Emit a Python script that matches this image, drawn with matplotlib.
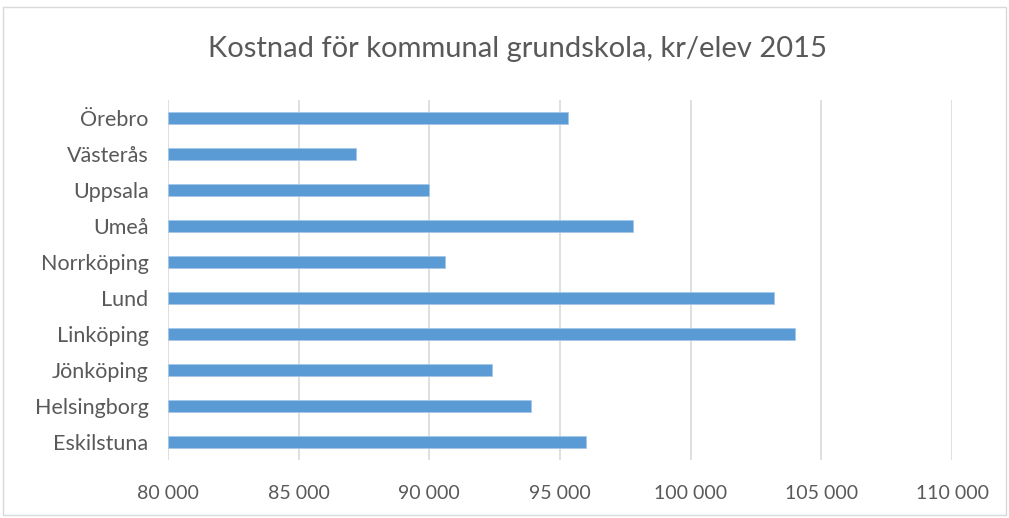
import matplotlib.pyplot as plt
from matplotlib.ticker import FuncFormatter
from matplotlib.patches import Rectangle

# data (top to bottom as shown)
cities = ['Örebro', 'Västerås', 'Uppsala', 'Umeå', 'Norrköping',
          'Lund', 'Linköping', 'Jönköping', 'Helsingborg', 'Eskilstuna']
cost = [95300, 87200, 90000, 97800, 90600,
        103200, 104000, 92400, 93900, 96000]
xticks = [80000, 85000, 90000, 95000, 100000, 105000, 110000]

plt.rcParams['font.family'] = ['Lato', 'DejaVu Sans']

fig = plt.figure(figsize=(10.09, 5.18), dpi=100)
ax = fig.add_axes([168 / 1009, 58 / 518, (952 - 168) / 1009, 360 / 518])

# bars drawn bottom-up so the first city ends on top
ypos = list(range(len(cities)))[::-1]
ax.barh(ypos, [c - 80000 for c in cost], left=80000, height=0.36,
        color='#5b9bd5', edgecolor='#a7c7e7', linewidth=0.6, zorder=3)

ax.set_xlim(80000, 110000)
ax.set_ylim(-0.5, len(cities) - 0.5)
ax.set_xticks(xticks)
ax.xaxis.set_major_formatter(FuncFormatter(lambda v, p: f'{int(v):,}'.replace(',', ' ')))
ax.set_yticks(ypos)
ax.set_yticklabels(cities)

ax.grid(axis='x', color='#d9d9d9', linewidth=1.2, zorder=0)
for s in ax.spines.values():
    s.set_visible(False)
ax.tick_params(length=0, colors='#595959')
ax.tick_params(axis='x', pad=18, labelsize=14)
ax.tick_params(axis='y', pad=14, labelsize=15.5)

fig.text(518 / 1009, 1 - 49 / 518, 'Kostnad för kommunal grundskola, kr/elev 2015',
         ha='center', va='center', fontsize=21, color='#595959')

# light chart-area border
fig.patches.append(Rectangle((3 / 1009, 3 / 518), 1 - 6 / 1009, 1 - 10 / 518,
                             transform=fig.transFigure, fill=False,
                             edgecolor='#d9d9d9', linewidth=1))

fig.savefig('out.png', dpi=100)
